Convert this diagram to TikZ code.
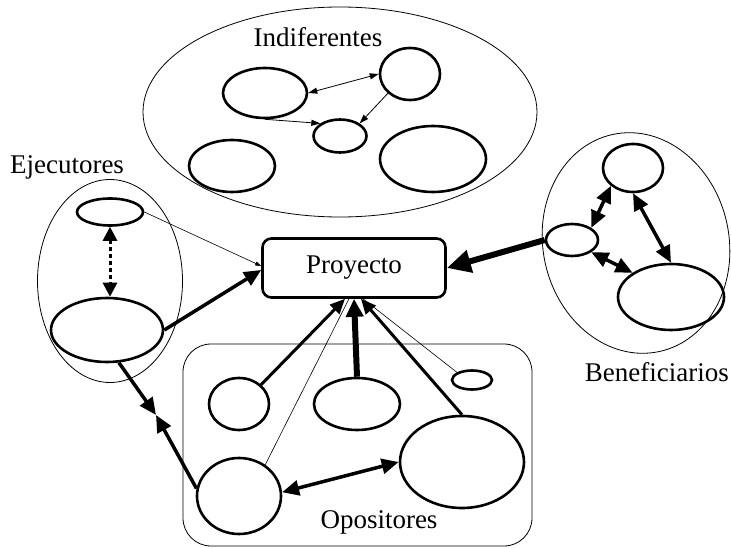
\documentclass[tikz,border=0pt]{standalone}
\usepackage{fontspec}
\setmainfont{Liberation Serif}
\usetikzlibrary{shapes.geometric,arrows.meta,calc}
\begin{document}
\begin{tikzpicture}[x=1pt,y=-1pt,
  grp/.style={draw,line width=0.8pt,inner sep=0pt},
  ell/.style={draw,ellipse,line width=2.6pt,inner sep=0pt},
  lbl/.style={font=\fontsize{27}{30}\selectfont,inner sep=0pt},
  thinarr/.style={line width=0.8pt,-{Triangle[length=9pt,width=6pt]}},
  thinboth/.style={line width=0.8pt,{Triangle[length=9pt,width=6pt]}-{Triangle[length=9pt,width=6pt]}},
  hairarr/.style={line width=0.6pt,-{Triangle[length=6pt,width=4pt]}},
  thickarr/.style={line width=3.5pt,-{Triangle[length=17pt,width=15pt]}},
  thickboth/.style={line width=3.5pt,{Triangle[length=17pt,width=15pt]}-{Triangle[length=17pt,width=15pt]}},
  heavyarr/.style={line width=6pt,-{Triangle[length=24pt,width=22pt]}},
  dotboth/.style={line width=3pt,dash pattern=on 4pt off 3pt,{Triangle[length=14pt,width=14pt]}-{Triangle[length=14pt,width=14pt]}},
]
\useasboundingbox (0,0) rectangle (731,548);

% groups
\node[grp,ellipse,minimum width=394pt,minimum height=210pt] (Ig) at (340,112) {};
\node[grp,ellipse,minimum width=145pt,minimum height=203pt] (Eg) at (110,281) {};
\node[grp,ellipse,minimum width=186pt,minimum height=222pt,rotate=12] (Bg) at (636,243) {};
\node[grp,rounded corners=28pt,minimum width=349pt,minimum height=202pt] (Og) at (357.5,445) {};

% labels
\node[lbl] (LI) at (318,37) {Indiferentes};
\node[lbl] (LE) at (67,167) {Ejecutores};
\node[lbl,anchor=east] (LB) at (729,372) {Beneficiarios};
\node[lbl] (LO) at (379,522) {Opositores};

% project
\node[draw,rounded corners=9pt,line width=2.6pt,minimum width=183pt,minimum height=59pt,lbl] (P) at (354,268) {Proyecto};

% Indiferentes
\node[ell,minimum width=84pt,minimum height=50pt] (A) at (265,93) {};
\node[ell,minimum width=60pt,minimum height=52pt] (B) at (410,74) {};
\node[ell,minimum width=53pt,minimum height=33pt] (C) at (340,136) {};
\node[ell,minimum width=86pt,minimum height=52pt] (D) at (232,166) {};
\node[ell,minimum width=106pt,minimum height=66pt] (E) at (433,159) {};
\draw[thinboth] (A.east) -- (B.west);
\draw[thinarr] (B.south west) -- (C.north east);
\draw[thinarr] (A.south) -- (C.north west);

% Ejecutores
\node[ell,minimum width=66pt,minimum height=27pt] (E1) at (110,212) {};
\node[ell,minimum width=112pt,minimum height=64pt] (E2) at (107,330) {};
\draw[dotboth] (E1.south) -- (E1.south |- E2.north);
\draw[hairarr] (E1.east) -- ([yshift=2pt]P.west);
\draw[thickarr] (E2.east) -- ([yshift=-2pt]P.west);

% Beneficiarios
\node[ell,minimum width=60pt,minimum height=48pt] (B1) at (633,168) {};
\node[ell,minimum width=52pt,minimum height=32pt] (B2) at (572,240) {};
\node[ell,minimum width=106pt,minimum height=66pt] (B3) at (671,297) {};
\draw[thickboth] (B2.north east) -- (B1.south west);
\draw[thickboth] (B1.south) -- (B3.north);
\draw[thickboth] (B2.south east) -- (B3.north west);
\draw[heavyarr] (B2.west) -- (P.east);

% Opositores
\node[ell,minimum width=60pt,minimum height=52pt] (O1) at (239,404) {};
\node[ell,minimum width=86pt,minimum height=52pt] (O2) at (357,404) {};
\node[ell,minimum width=40pt,minimum height=19pt] (O3) at (472,380) {};
\node[ell,minimum width=124pt,minimum height=92pt] (O4) at (462,462) {};
\node[ell,minimum width=84pt,minimum height=76pt] (O5) at (239,496) {};
\draw[line width=3pt,-{Triangle[length=15pt,width=13pt]}] (O1.north east) -- ([xshift=-9pt]P.south);
\draw[line width=6pt,-{Triangle[length=18pt,width=17pt]}] (O2.north) -- (P.south);
\draw[line width=3pt,-{Triangle[length=15pt,width=13pt]}] (O4.north) -- ([xshift=7pt]P.south);
\draw[line width=0.6pt] (O3.north west) -- ([xshift=9pt]P.south);
\draw[line width=0.6pt] (O5.50) -- ([xshift=-5pt]P.south);
\draw[thickboth] (O5.5) -- (O4.west);

% Ejecutores <-> Opositores
\coordinate (m) at (156,415);
\draw[thickarr] (E2.-70) -- (m);
\draw[thickarr] (O5.170) -- (m);
\end{tikzpicture}
\end{document}
